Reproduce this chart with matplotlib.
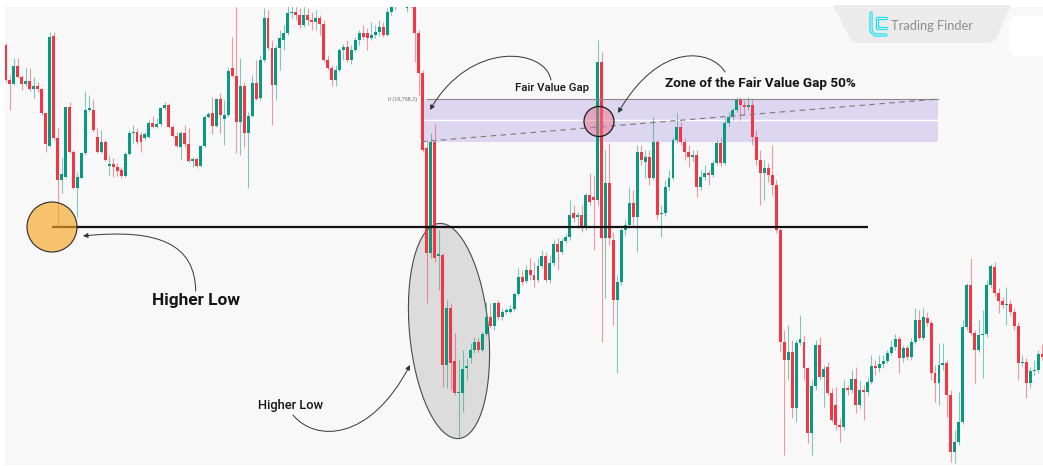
import numpy as np
import matplotlib
matplotlib.use("Agg")
import matplotlib.pyplot as plt
from matplotlib.patches import Rectangle, Ellipse, Circle, FancyArrowPatch, Polygon, FancyBboxPatch
from matplotlib.path import Path
from matplotlib.transforms import Affine2D

# ---------------- data (price units) ----------------
opens = [
    455, 420, 416, 434, 423, 416, 419, 411, 414, 411,
    387, 354, 464, 362, 320, 323, 393, 348, 312, 322,
    347, 390, 390, 363, 348, 358, 334, 336, 333, 330,
    324, 346, 367, 368, 365, 362, 363, 377, 373, 376,
    392, 395, 373, 364, 353, 367, 356, 339, 341, 334,
    354, 383, 387, 374, 401, 381, 385, 432, 424, 378,
    414, 367, 384, 417, 402, 440, 482, 452, 415, 452,
    460, 467, 487, 488, 485, 475, 485, 480, 478, 482,
    476, 440, 432, 420, 430, 450, 453, 440, 450, 460,
    467, 467, 462, 465, 468, 473, 465, 488, 493, 505,
    500, 492, 502, 500, 467, 427, 352, 247, 358, 244,
    245, 135, 192, 139, 107, 107, 132, 142, 150, 158,
    150, 166, 183, 174, 197, 183, 188, 188, 191, 206,
    223, 219, 230, 225, 220, 234, 244, 220, 237, 256,
    248, 259, 263, 287, 283, 285, 272, 305, 303, 300,
    438, 262, 317, 260, 200, 218, 270, 275, 297, 283,
    348, 338, 343, 322, 358, 286, 287, 313, 322, 360,
    373, 358, 348, 343, 345, 313, 323, 327, 325, 337,
    357, 337, 377, 383, 390, 400, 395, 393, 395, 363,
    340, 327, 332, 325, 315, 270, 158, 140, 148, 92,
    157, 158, 132, 67, 114, 155, 123, 133, 107, 95,
    75, 73, 112, 110, 121, 95, 110, 108, 118, 134,
    132, 136, 139, 147, 153, 161, 142, 152, 143, 158,
    180, 162, 182, 177, 127, 117, 135, 137, 105, 48,
    58, 78, 173, 215, 167, 150, 165, 166, 215, 233,
    207, 199, 195, 196, 188, 174, 137, 138, 117, 129,
    130, 146,
]
closes = [
    420, 416, 434, 423, 416, 419, 411, 414, 411, 387,
    356, 463, 362, 320, 326, 393, 348, 312, 323, 347,
    390, 392, 370, 348, 358, 340, 336, 333, 329, 324,
    346, 367, 368, 358, 358, 366, 377, 373, 376, 392,
    395, 373, 364, 354, 367, 356, 339, 341, 334, 354,
    383, 386, 374, 401, 385, 385, 429, 424, 378, 414,
    367, 384, 417, 401, 440, 482, 452, 415, 452, 462,
    467, 487, 488, 485, 475, 485, 480, 478, 482, 476,
    440, 432, 420, 430, 450, 453, 440, 450, 460, 467,
    463, 462, 465, 468, 473, 465, 488, 493, 505, 500,
    508, 495, 497, 467, 427, 350, 247, 358, 242, 246,
    135, 192, 137, 107, 108, 131, 134, 150, 158, 150,
    166, 183, 174, 197, 183, 188, 190, 191, 206, 223,
    218, 230, 225, 220, 234, 244, 220, 237, 256, 248,
    259, 263, 285, 282, 285, 272, 305, 298, 300, 438,
    262, 317, 262, 200, 218, 270, 275, 297, 283, 348,
    340, 343, 322, 358, 285, 287, 313, 322, 360, 373,
    358, 348, 343, 345, 313, 323, 327, 325, 337, 357,
    337, 377, 383, 390, 400, 395, 393, 395, 363, 340,
    327, 332, 325, 315, 270, 158, 140, 148, 92, 157,
    161, 132, 67, 114, 155, 123, 131, 107, 80, 75,
    73, 112, 110, 121, 95, 110, 108, 118, 134, 132,
    136, 139, 147, 153, 161, 142, 152, 143, 158, 180,
    162, 183, 177, 127, 117, 135, 137, 105, 48, 58,
    78, 173, 215, 167, 150, 165, 166, 215, 234, 207,
    199, 195, 196, 188, 174, 137, 138, 117, 129, 130,
    146, 143,
]
highs = [
    457, 425, 442, 442, 425, 433, 432, 423, 418, 412,
    387, 468, 468, 372, 343, 393, 398, 350, 328, 348,
    409, 405, 401, 372, 370, 360, 345, 342, 337, 333,
    348, 370, 375, 372, 368, 368, 380, 384, 382, 393,
    398, 397, 375, 368, 369, 375, 372, 343, 343, 355,
    385, 388, 403, 402, 407, 400, 433, 463, 493, 442,
    418, 388, 425, 440, 445, 492, 490, 460, 455, 470,
    475, 495, 497, 495, 492, 495, 492, 488, 490, 485,
    480, 445, 435, 435, 452, 456, 460, 455, 463, 470,
    475, 472, 478, 475, 480, 478, 492, 498, 510, 512,
    515, 503, 508, 503, 470, 430, 360, 367, 376, 270,
    247, 200, 197, 167, 140, 150, 142, 157, 163, 162,
    168, 198, 197, 198, 200, 192, 192, 195, 208, 232,
    230, 235, 242, 238, 242, 250, 248, 245, 260, 262,
    262, 266, 300, 295, 288, 295, 307, 327, 325, 460,
    448, 350, 357, 268, 225, 272, 280, 313, 310, 355,
    355, 350, 350, 383, 360, 295, 320, 330, 363, 387,
    378, 362, 355, 350, 350, 330, 335, 330, 340, 360,
    363, 382, 388, 392, 403, 403, 400, 403, 400, 370,
    350, 340, 337, 355, 320, 272, 170, 175, 160, 160,
    185, 165, 133, 120, 160, 163, 135, 138, 112, 113,
    82, 120, 115, 130, 133, 120, 115, 122, 145, 140,
    145, 145, 150, 160, 166, 164, 155, 155, 162, 192,
    190, 192, 188, 180, 135, 157, 157, 140, 110, 70,
    108, 180, 217, 242, 170, 180, 190, 220, 236, 238,
    212, 203, 213, 200, 192, 178, 145, 142, 133, 140,
    150, 156,
]
lows = [
    418, 390, 415, 422, 410, 414, 409, 402, 408, 385,
    348, 353, 360, 273, 307, 322, 347, 311, 283, 322,
    345, 388, 368, 347, 347, 339, 325, 323, 324, 322,
    323, 345, 357, 356, 348, 360, 362, 372, 372, 374,
    390, 372, 363, 353, 340, 353, 338, 333, 332, 333,
    353, 382, 366, 373, 367, 355, 383, 423, 347, 345,
    353, 312, 383, 400, 400, 438, 450, 375, 400, 430,
    450, 465, 482, 480, 472, 473, 475, 470, 470, 465,
    438, 430, 414, 414, 428, 440, 438, 436, 448, 455,
    460, 450, 460, 462, 464, 463, 464, 485, 490, 495,
    497, 488, 492, 438, 405, 348, 197, 242, 238, 210,
    113, 112, 110, 105, 63, 88, 120, 137, 147, 148,
    148, 164, 172, 170, 180, 180, 186, 187, 189, 204,
    215, 217, 220, 213, 218, 232, 218, 217, 234, 230,
    246, 257, 260, 278, 272, 268, 270, 295, 250, 295,
    158, 202, 255, 175, 127, 215, 265, 272, 275, 248,
    335, 322, 315, 320, 280, 263, 284, 310, 320, 357,
    355, 340, 333, 338, 303, 310, 320, 315, 323, 335,
    334, 335, 374, 380, 388, 380, 385, 390, 355, 335,
    295, 300, 318, 305, 267, 148, 45, 120, 82, 78,
    155, 120, 57, 45, 110, 120, 93, 105, 78, 70,
    58, 70, 105, 107, 87, 92, 80, 105, 116, 125,
    128, 132, 137, 145, 150, 127, 138, 140, 140, 156,
    160, 160, 174, 120, 98, 95, 130, 83, 38, 37,
    55, 76, 170, 165, 117, 148, 122, 163, 212, 204,
    187, 192, 175, 185, 170, 120, 134, 102, 112, 125,
    127, 140,
]

# levels / zone (price units and candle indices)
FVG_TOP = 401.0          # 0 (19,768.3)
FVG_BOTTOM = 358.3
FVG_MID = (FVG_TOP + FVG_BOTTOM) / 2
FVG_START, FVG_END = 104.5, 234.8
LEVEL = 273.0
LEVEL_START, LEVEL_END = 11.6, 217.1

GREEN = '#089981'
RED = '#f23645'
FONT = ['Roboto', 'DejaVu Sans']

# ---------------- figure ----------------
W, H = 1043, 466
fig = plt.figure(figsize=(W / 100, H / 100), dpi=100)
fig.patch.set_facecolor('white')
ax = fig.add_axes([5 / W, 1 / H, 1038 / W, 458 / H])
ax.set_facecolor('#f8f8f8')
for s in ax.spines.values():
    s.set_visible(False)
ax.set_xticks([])
ax.set_yticks([])
ax.set_xlim(-0.25, 261.2)
ax.set_ylim(35, 493)

# pixel-space transform for annotations (x right, y down)
PX = Affine2D().scale(1 / W, -1 / H).translate(0, 1) + fig.transFigure

# ---------------- FVG zone ----------------
ax.add_patch(Rectangle((FVG_START, FVG_BOTTOM), FVG_END - FVG_START, FVG_TOP - FVG_BOTTOM,
                       facecolor='#ddd6f0', edgecolor='none', zorder=1))
ax.plot([FVG_START, FVG_END], [FVG_MID, FVG_MID], color='white', lw=1.0, zorder=1.2)
ax.plot([FVG_START + 1.5, FVG_END], [FVG_TOP, FVG_TOP], color='#8a8a8a', lw=0.8, zorder=4)
ax.plot([FVG_START, FVG_END], [FVG_BOTTOM, FVG_TOP], color='#7a7a7a', lw=0.8,
        ls=(0, (5, 4)), zorder=4)
ax.text(417, 99.5, '0 (19,768.3)', transform=PX, ha='right', va='center',
        fontsize=4.2, family=['Liberation Serif', 'DejaVu Serif'], color='#666666', zorder=6)

# gray ellipse (under candles)
ax.add_patch(Ellipse((449, 331), 79, 216, angle=-5.3, transform=PX,
                     facecolor='#dcdcdc', edgecolor='#4a4a4a', lw=0.8, zorder=1))

# ---------------- candles ----------------
o = np.array(opens, float)
c = np.array(closes, float)
h = np.array(highs, float)
l = np.array(lows, float)
x = np.arange(len(o))
cols = np.where(c >= o, GREEN, RED)
ax.vlines(x, l, h, colors=list(cols), linewidth=0.8, alpha=0.5, zorder=2)
ax.bar(x, np.maximum(np.abs(c - o), 1.2), bottom=np.minimum(o, c), width=0.74,
       color=list(cols), linewidth=0, zorder=3)

# ---------------- level line and markers ----------------
ax.plot([LEVEL_START, LEVEL_END], [LEVEL, LEVEL], color='#111111', lw=1.6,
        solid_capstyle='butt', zorder=4)
ax.add_patch(Circle((52, 227), 25, transform=PX, facecolor=(0.96, 0.65, 0.14, 0.65),
                    edgecolor='#2a2a2a', lw=0.8, zorder=5))
ax.add_patch(Circle((599, 121.5), 15, transform=PX, facecolor=(0.93, 0.45, 0.55, 0.5),
                    edgecolor='#1a1a1a', lw=0.9, zorder=5))

# ---------------- curved arrows ----------------
def curve(p0, p1, p2, p3):
    path = Path([p0, p1, p2, p3], [Path.MOVETO, Path.CURVE4, Path.CURVE4, Path.CURVE4])
    ax.add_patch(FancyArrowPatch(path=path, arrowstyle='-|>', mutation_scale=7,
                                 lw=0.7, color='#333333', transform=PX, zorder=6))

curve((551, 80), (545, 48), (470, 40), (430, 110))
curve((725, 72), (712, 50), (660, 40), (618, 113))
curve((195.7, 291), (195, 245), (160, 228), (83, 236))
curve((293, 415), (315, 442), (370, 442), (410, 365))

# ---------------- texts ----------------
ax.text(195.7, 301, 'Higher Low', transform=PX, ha='center', va='center', fontsize=12.4,
        fontweight='bold', family=FONT, color='#151515', zorder=8)
ax.text(291, 405, 'Higher Low', transform=PX, ha='center', va='center', fontsize=9.3,
        fontweight='medium', family=FONT, color='#151515', zorder=8)
ax.text(552, 88, 'Fair Value Gap', transform=PX, ha='center', va='center', fontsize=8.2,
        fontweight='medium', family=FONT, color='#151515', zorder=8)
ax.text(760.5, 83, 'Zone of the Fair Value Gap 50%', transform=PX, ha='center', va='center',
        fontsize=9.7, fontweight='bold', family=FONT, color='#151515', zorder=8)

# ---------------- logo ----------------
ax.add_patch(Polygon([(833, 5), (1011, 5), (996, 39), (990, 43), (856, 43), (850, 39)],
                     closed=True, transform=PX, facecolor='#ebebeb', edgecolor='none',
                     zorder=7, clip_on=False))
ax.add_patch(FancyBboxPatch((1013, 20), 40, 32, boxstyle='round,pad=4,rounding_size=7',
                            transform=PX, facecolor='white', edgecolor='none', zorder=7))
for pts in ([(871, 13), (871, 31), (875, 35), (886, 35)],
            [(886, 18), (877, 18), (877, 28), (886, 28)]):
    xs, ys = zip(*pts)
    ax.plot(xs, ys, transform=PX, color='#18e4f4', lw=2.4, solid_joinstyle='round',
            solid_capstyle='round', zorder=8)
    ax.plot(xs, ys, transform=PX, color='#ebebeb', lw=0.7, solid_joinstyle='round',
            zorder=8.1)
ax.text(932, 26.5, 'Trading Finder', transform=PX, ha='center', va='center', fontsize=9.3,
        family=['Lato', 'DejaVu Sans'], color='#8e8e8e', zorder=8)

fig.savefig('out.png', dpi=100, facecolor=fig.get_facecolor())
